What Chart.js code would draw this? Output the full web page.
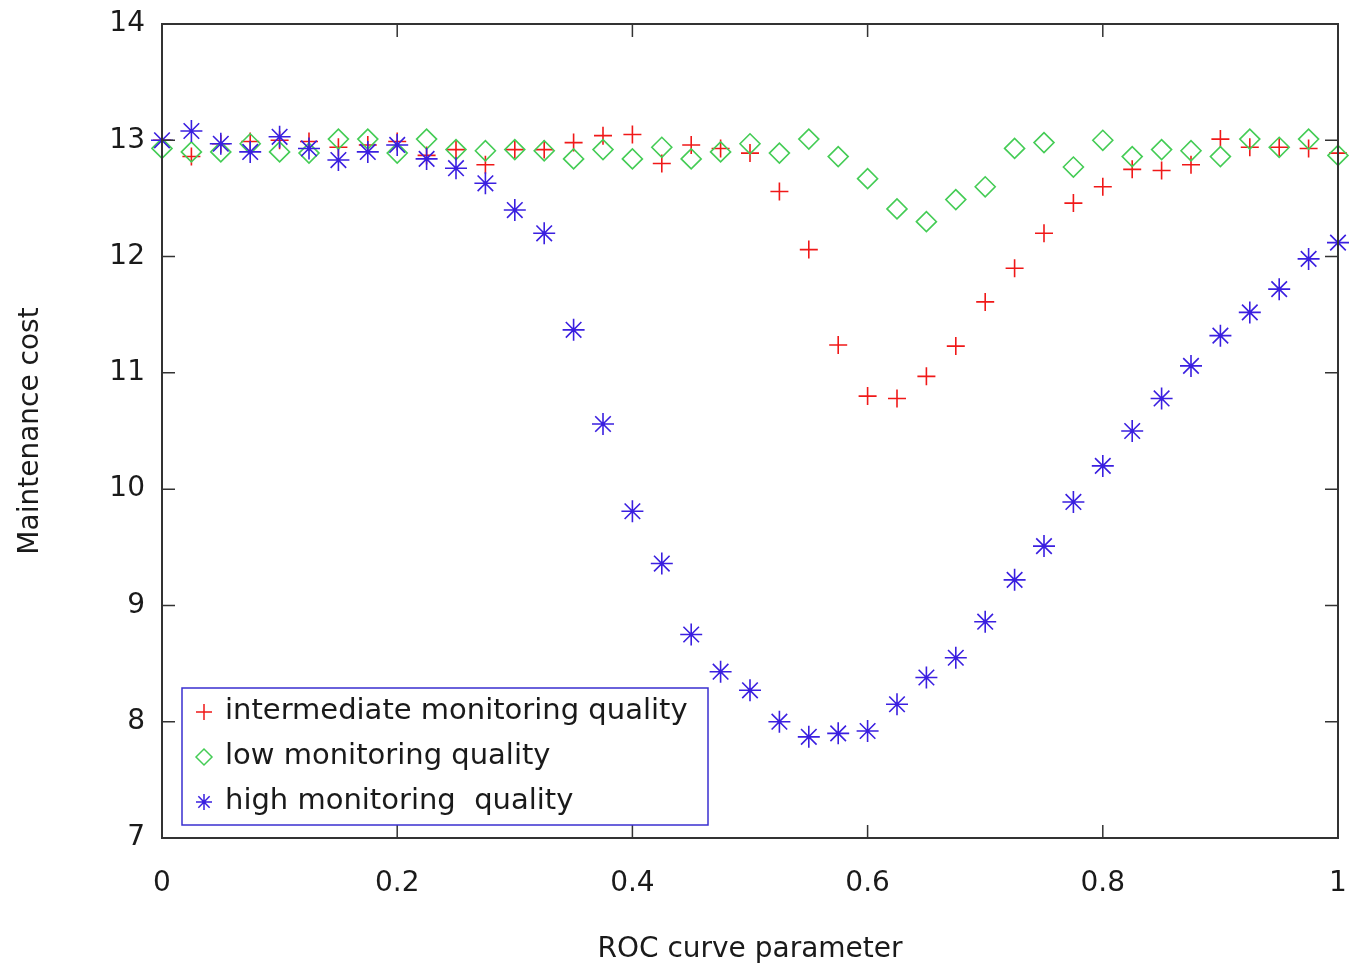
<!DOCTYPE html>
<html>
<head>
<meta charset="utf-8">
<script src="https://cdn.jsdelivr.net/npm/chart.js@4/dist/chart.umd.min.js"></script>
<style>
    html, body { margin: 0; padding: 0; background: #ffffff; }
    #costChart { display: block; }
</style>
</head>
<body>
<canvas id="costChart" width="1352" height="967"></canvas>
<script>
// ROC curve parameter values (x axis)
const rocParameter = [0, 0.025, 0.05, 0.075, 0.1, 0.125, 0.15, 0.175, 0.2, 0.225,
    0.25, 0.275, 0.3, 0.325, 0.35, 0.375, 0.4, 0.425, 0.45, 0.475,
    0.5, 0.525, 0.55, 0.575, 0.6, 0.625, 0.65, 0.675, 0.7, 0.725,
    0.75, 0.775, 0.8, 0.825, 0.85, 0.875, 0.9, 0.925, 0.95, 0.975, 1];

const intermediateQuality = [13.00, 12.86, 12.97, 12.99, 13.00, 12.99, 12.94, 12.96, 12.99, 12.87,
    12.92, 12.79, 12.92, 12.92, 12.98, 13.04, 13.05, 12.80, 12.96, 12.93,
    12.89, 12.56, 12.06, 11.24, 10.80, 10.78, 10.97, 11.23, 11.61, 11.90,
    12.20, 12.46, 12.60, 12.75, 12.74, 12.79, 13.01, 12.94, 12.94, 12.93, 12.89];

const lowQuality = [12.93, 12.90, 12.90, 12.97, 12.90, 12.89, 13.01, 13.01, 12.89, 13.01,
    12.92, 12.91, 12.92, 12.91, 12.84, 12.92, 12.84, 12.94, 12.84, 12.90,
    12.97, 12.89, 13.01, 12.86, 12.67, 12.41, 12.30, 12.49, 12.60, 12.93,
    12.98, 12.77, 13.00, 12.86, 12.92, 12.91, 12.86, 13.01, 12.94, 13.01, 12.87];

const highQuality = [13.00, 13.08, 12.97, 12.90, 13.03, 12.93, 12.83, 12.90, 12.96, 12.84,
    12.76, 12.63, 12.40, 12.20, 11.37, 10.56, 9.81, 9.36, 8.75, 8.43,
    8.27, 8.00, 7.87, 7.90, 7.92, 8.15, 8.38, 8.55, 8.86, 9.22,
    9.51, 9.89, 10.20, 10.50, 10.78, 11.06, 11.32, 11.52, 11.72, 11.98, 12.12];

const seriesLabels = ['intermediate monitoring quality', 'low monitoring quality', 'high monitoring  quality'];

// Tick positions
const xTickValues = [0, 0.2, 0.4, 0.6, 0.8, 1];
const yTickValues = [7, 8, 9, 10, 11, 12, 13, 14];

const fontFamily = '"DejaVu Sans", Verdana, sans-serif';
const textColor = '#1a1a1a';
const frameColor = '#333333';

function toPoints(values) {
    var points = [];
    for (let i = 0; i < rocParameter.length; i++) {
        points.push({ x: rocParameter[i], y: values[i] });
    }
    return points;
}

//Draws the plot frame and gnuplot style inward ticks on all four sides.
const frameTicksPlugin = {
    id: 'frameTicks',
    afterDatasetsDraw: function (chart) {
        var ctx = chart.ctx;
        var area = chart.chartArea;
        var xScale = chart.scales.x;
        var yScale = chart.scales.y;
        var tickLen = 13;

        ctx.save();
        ctx.strokeStyle = frameColor;
        ctx.lineWidth = 1.5;
        ctx.beginPath();

        xTickValues.forEach(function (v) {
            var px = xScale.getPixelForValue(v);
            ctx.moveTo(px, area.bottom);
            ctx.lineTo(px, area.bottom - tickLen);
            ctx.moveTo(px, area.top);
            ctx.lineTo(px, area.top + tickLen);
        });

        yTickValues.forEach(function (v) {
            var py = yScale.getPixelForValue(v);
            ctx.moveTo(area.left, py);
            ctx.lineTo(area.left + tickLen, py);
            ctx.moveTo(area.right, py);
            ctx.lineTo(area.right - tickLen, py);
        });
        ctx.stroke();

        ctx.lineWidth = 2;
        ctx.strokeRect(area.left, area.top, area.right - area.left, area.bottom - area.top);
        ctx.restore();
    }
};

//Legend box inside the plot area, lower left.
const boxLegendPlugin = {
    id: 'boxLegend',
    afterDraw: function (chart) {
        var ctx = chart.ctx;
        var area = chart.chartArea;
        var boxLeft = area.left + 20;
        var boxTop = area.bottom - 150;
        var boxWidth = 526;
        var boxHeight = 137;
        var rowHeight = 45;

        ctx.save();
        ctx.fillStyle = '#ffffff';
        ctx.fillRect(boxLeft, boxTop, boxWidth, boxHeight);
        ctx.strokeStyle = '#3a2fd0';
        ctx.lineWidth = 1.5;
        ctx.strokeRect(boxLeft, boxTop, boxWidth, boxHeight);

        ctx.font = '29px ' + fontFamily;
        ctx.textBaseline = 'middle';
        ctx.textAlign = 'left';

        chart.data.datasets.forEach(function (dataSet, index) {
            var rowY = boxTop + 23 + index * rowHeight;
            ctx.strokeStyle = dataSet.borderColor;
            ctx.fillStyle = 'rgba(0,0,0,0)';
            ctx.lineWidth = 1.5;
            Chart.helpers.drawPoint(ctx, {
                pointStyle: dataSet.pointStyle,
                radius: 8,
                rotation: 0,
                borderWidth: 1.5
            }, boxLeft + 22, rowY + 1);
            ctx.fillStyle = textColor;
            ctx.fillText(dataSet.label, boxLeft + 43, rowY);
        });
        ctx.restore();
    }
};

function initChart() {
    var costChartControl = document.getElementById('costChart');

    new Chart(costChartControl, {
        type: 'scatter',
        data: {
            datasets: [
                {
                    label: seriesLabels[0],
                    data: toPoints(intermediateQuality),
                    pointStyle: 'cross',
                    radius: 9,
                    borderColor: '#f01818',
                    backgroundColor: 'rgba(0,0,0,0)',
                    borderWidth: 1.6,
                    clip: false,
                    order: 3
                },
                {
                    label: seriesLabels[1],
                    data: toPoints(lowQuality),
                    pointStyle: 'rectRot',
                    radius: 10,
                    borderColor: '#44cc55',
                    backgroundColor: 'rgba(0,0,0,0)',
                    borderWidth: 1.6,
                    clip: false,
                    order: 2
                },
                {
                    label: seriesLabels[2],
                    data: toPoints(highQuality),
                    pointStyle: 'star',
                    radius: 11,
                    borderColor: '#3a1fe0',
                    backgroundColor: 'rgba(0,0,0,0)',
                    borderWidth: 1.6,
                    clip: false,
                    order: 1
                }
            ]
        },
        options: {
            responsive: false,
            devicePixelRatio: 1,
            animation: false,
            layout: {
                padding: { left: 0, right: 14, top: 24, bottom: 0 }
            },
            scales: {
                x: {
                    type: 'linear',
                    min: 0,
                    max: 1,
                    afterBuildTicks: function (scale) {
                        scale.ticks = xTickValues.map(function (v) { return { value: v }; });
                    },
                    afterFit: function (scale) {
                        scale.height = 129;
                        scale.paddingLeft = 0;
                        scale.paddingRight = 0;
                    },
                    grid: {
                        display: false,
                        drawTicks: false
                    },
                    border: {
                        display: false
                    },
                    ticks: {
                        padding: 29,
                        color: textColor,
                        font: { family: fontFamily, size: 28 },
                        maxRotation: 0,
                        callback: function (value) {
                            return String(value);
                        }
                    },
                    title: {
                        display: true,
                        text: 'ROC curve parameter',
                        color: textColor,
                        font: { family: fontFamily, size: 28 },
                        padding: { top: 0, bottom: 0 }
                    }
                },
                y: {
                    type: 'linear',
                    min: 7,
                    max: 14,
                    afterBuildTicks: function (scale) {
                        scale.ticks = yTickValues.map(function (v) { return { value: v }; });
                    },
                    afterFit: function (scale) {
                        scale.width = 162;
                        scale.paddingTop = 0;
                        scale.paddingBottom = 0;
                    },
                    grid: {
                        display: false,
                        drawTicks: false
                    },
                    border: {
                        display: false
                    },
                    ticks: {
                        padding: 17,
                        color: textColor,
                        font: { family: fontFamily, size: 28 }
                    },
                    title: {
                        display: true,
                        text: 'Maintenance cost',
                        color: textColor,
                        font: { family: fontFamily, size: 28 },
                        padding: { top: 14, bottom: 0 }
                    }
                }
            },
            plugins: {
                legend: { display: false },
                tooltip: { enabled: false }
            }
        },
        plugins: [frameTicksPlugin, boxLegendPlugin]
    });
}

initChart();
</script>
</body>
</html>
